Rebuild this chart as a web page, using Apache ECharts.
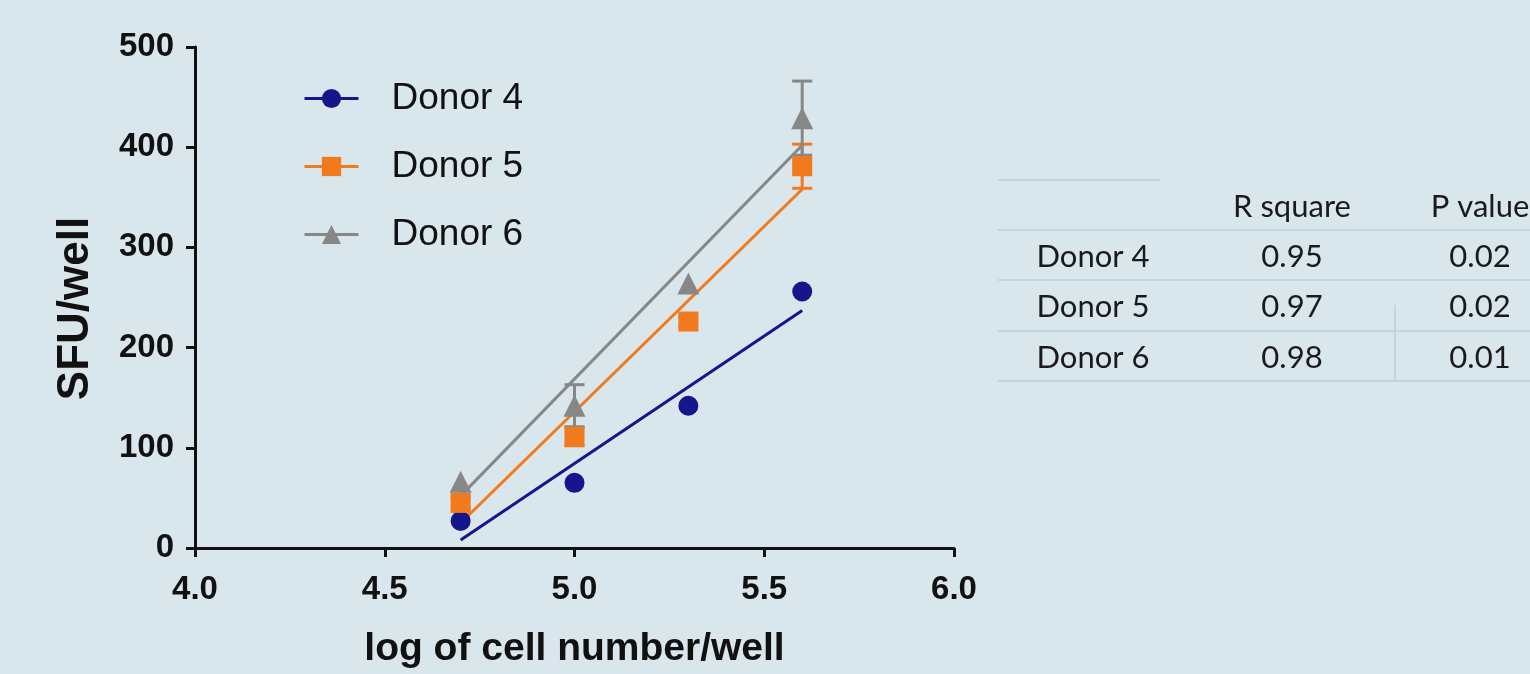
<!DOCTYPE html>
<html>
<head>
<meta charset="utf-8">
<script src="https://cdn.jsdelivr.net/npm/echarts@6/dist/echarts.min.js"></script>
<style>
html,body{margin:0;padding:0;background:#d9e6ec;}
#chart{width:1530px;height:674px;}
</style>
</head>
<body>
<div id="chart"></div>
<script>
// ---- data ----
var xValues = [4.7, 5.0, 5.3, 5.6];
var donorNames = ['Donor 4', 'Donor 5', 'Donor 6'];
var donor4 = [27, 65, 142, 256];
var donor5 = [45, 111, 226, 381];
var donor6 = [66, 142, 264, 429];
var err4 = [0, 0, 0, 0];
var err5 = [6, 9, 4, 22];
var err6 = [0, 21, 0, 37];
// fitted regression line end points
var fitX = [4.7, 5.6];
var fit4 = [8, 237];
var fit5 = [25, 358];
var fit6 = [52, 402];
var xTicks = ['4.0', '4.5', '5.0', '5.5', '6.0'];
var yTicks = [0, 100, 200, 300, 400, 500];
// table
var tableHeader = ['', 'R square', 'P value'];
var tableRows = ['Donor 4', 'Donor 5', 'Donor 6'];
var rSquare = ['0.95', '0.97', '0.98'];
var pValue = ['0.02', '0.02', '0.01'];

var colors = ['#16168c', '#f07a1c', '#878787'];
var symbols = ['circle', 'rect', 'triangle'];
var values = [donor4, donor5, donor6];
var errs = [err4, err5, err6];
var fits = [fit4, fit5, fit6];

function pts(arr) { return xValues.map(function (x, i) { return [x, arr[i]]; }); }

var series = [];
// fit lines
fits.forEach(function (f, k) {
  series.push({
    type: 'line', name: donorNames[k] + ' fit', silent: true, z: 2,
    data: fitX.map(function (x, i) { return [x, f[i]]; }),
    symbol: 'none', lineStyle: { color: colors[k], width: 3 }
  });
});
// error bars
errs.forEach(function (e, k) {
  series.push({
    type: 'custom', name: donorNames[k] + ' err', silent: true, z: 3,
    data: xValues.map(function (x, i) { return [x, values[k][i] - e[i], values[k][i] + e[i], e[i]]; }),
    renderItem: function (params, api) {
      if (!(api.value(3) > 0)) return null;
      var lo = api.coord([api.value(0), api.value(1)]);
      var hi = api.coord([api.value(0), api.value(2)]);
      var hw = 10;
      var st = { stroke: colors[k], lineWidth: 3 };
      return { type: 'group', children: [
        { type: 'line', shape: { x1: lo[0], y1: lo[1], x2: hi[0], y2: hi[1] }, style: st },
        { type: 'line', shape: { x1: lo[0] - hw, y1: lo[1], x2: lo[0] + hw, y2: lo[1] }, style: st },
        { type: 'line', shape: { x1: hi[0] - hw, y1: hi[1], x2: hi[0] + hw, y2: hi[1] }, style: st }
      ]};
    }
  });
});
// points
values.forEach(function (v, k) {
  series.push({
    type: 'line', name: donorNames[k], z: 4,
    data: pts(v), symbol: symbols[k], symbolSize: k === 2 ? 22 : 20,
    showAllSymbol: true,
    itemStyle: { color: colors[k], opacity: 1 },
    lineStyle: { width: 0, opacity: 0, color: colors[k] }
  });
});

var graphics = [];
var tableFont = '31px Lato';
var colX = [1093, 1292, 1480];
var rowY = [207, 257, 307, 358];
tableHeader.forEach(function (t, c) {
  if (t) graphics.push({ type: 'text', x: colX[c], y: rowY[0], style: { text: t, font: tableFont, fill: '#1a1a1a', align: 'center', verticalAlign: 'middle' } });
});
tableRows.forEach(function (t, r) {
  graphics.push({ type: 'text', x: colX[0], y: rowY[r + 1], style: { text: t, font: tableFont, fill: '#1a1a1a', align: 'center', verticalAlign: 'middle' } });
  graphics.push({ type: 'text', x: colX[1], y: rowY[r + 1], style: { text: rSquare[r], font: tableFont, fill: '#1a1a1a', align: 'center', verticalAlign: 'middle' } });
  graphics.push({ type: 'text', x: colX[2], y: rowY[r + 1], style: { text: pValue[r], font: tableFont, fill: '#1a1a1a', align: 'center', verticalAlign: 'middle' } });
});
var lineStyleT = { stroke: '#c6d3d9', lineWidth: 2 };
[[998, 180, 1160, 180], [998, 230, 1530, 230], [998, 280, 1530, 280], [998, 331, 1530, 331], [998, 381, 1530, 381], [1395, 305, 1395, 381]].forEach(function (l) {
  graphics.push({ type: 'line', shape: { x1: l[0], y1: l[1], x2: l[2], y2: l[3] }, style: lineStyleT, z: -1 });
});

var chart = echarts.init(document.getElementById('chart'));
chart.setOption({
  backgroundColor: '#d9e6ec',
  animation: false,
  grid: { left: 195, right: 576, top: 47, bottom: 122, containLabel: false },
  xAxis: {
    type: 'value', min: 4, max: 6, interval: 0.5,
    name: 'log of cell number/well', nameLocation: 'middle', nameGap: 82,
    nameTextStyle: { fontFamily: 'Liberation Sans', fontWeight: 'bold', fontSize: 39, color: '#111' },
    axisLine: { onZero: false, lineStyle: { color: '#111', width: 3 } },
    axisTick: { show: true, length: 9, lineStyle: { color: '#111', width: 3 } },
    axisLabel: { fontFamily: 'Liberation Sans', fontWeight: 'bold', fontSize: 33, color: '#111', margin: 25,
      formatter: function (v) { return xTicks[Math.round((v - 4) / 0.5)]; } },
    splitLine: { show: false }
  },
  yAxis: {
    type: 'value', min: 0, max: 500, interval: 100,
    name: 'SFU/well', nameLocation: 'middle', nameGap: 97, nameRotate: 90,
    nameTextStyle: { fontFamily: 'Liberation Sans', fontWeight: 'bold', fontSize: 44, color: '#111', padding: [0, 22, 0, 0] },
    axisLine: { show: true, lineStyle: { color: '#111', width: 3 } },
    axisTick: { show: true, length: 9, lineStyle: { color: '#111', width: 3 } },
    axisLabel: { fontFamily: 'Liberation Sans', fontWeight: 'bold', fontSize: 33, color: '#111', margin: 21,
      formatter: function (v) { return String(yTicks[Math.round(v / 100)]); } },
    splitLine: { show: false }
  },
  legend: {
    orient: 'vertical', left: 303, top: 80, padding: 0, itemWidth: 54, itemHeight: 24, itemGap: 31,
    data: donorNames.map(function (n, k) {
      return { name: n, lineStyle: { width: 3, opacity: 1, color: colors[k] }, itemStyle: { color: colors[k], opacity: 1 } };
    }),
    textStyle: { fontFamily: 'Liberation Sans', fontSize: 37, color: '#111', padding: [0, 0, 0, 28] }
  },
  graphic: graphics,
  series: series
});
</script>
</body>
</html>
